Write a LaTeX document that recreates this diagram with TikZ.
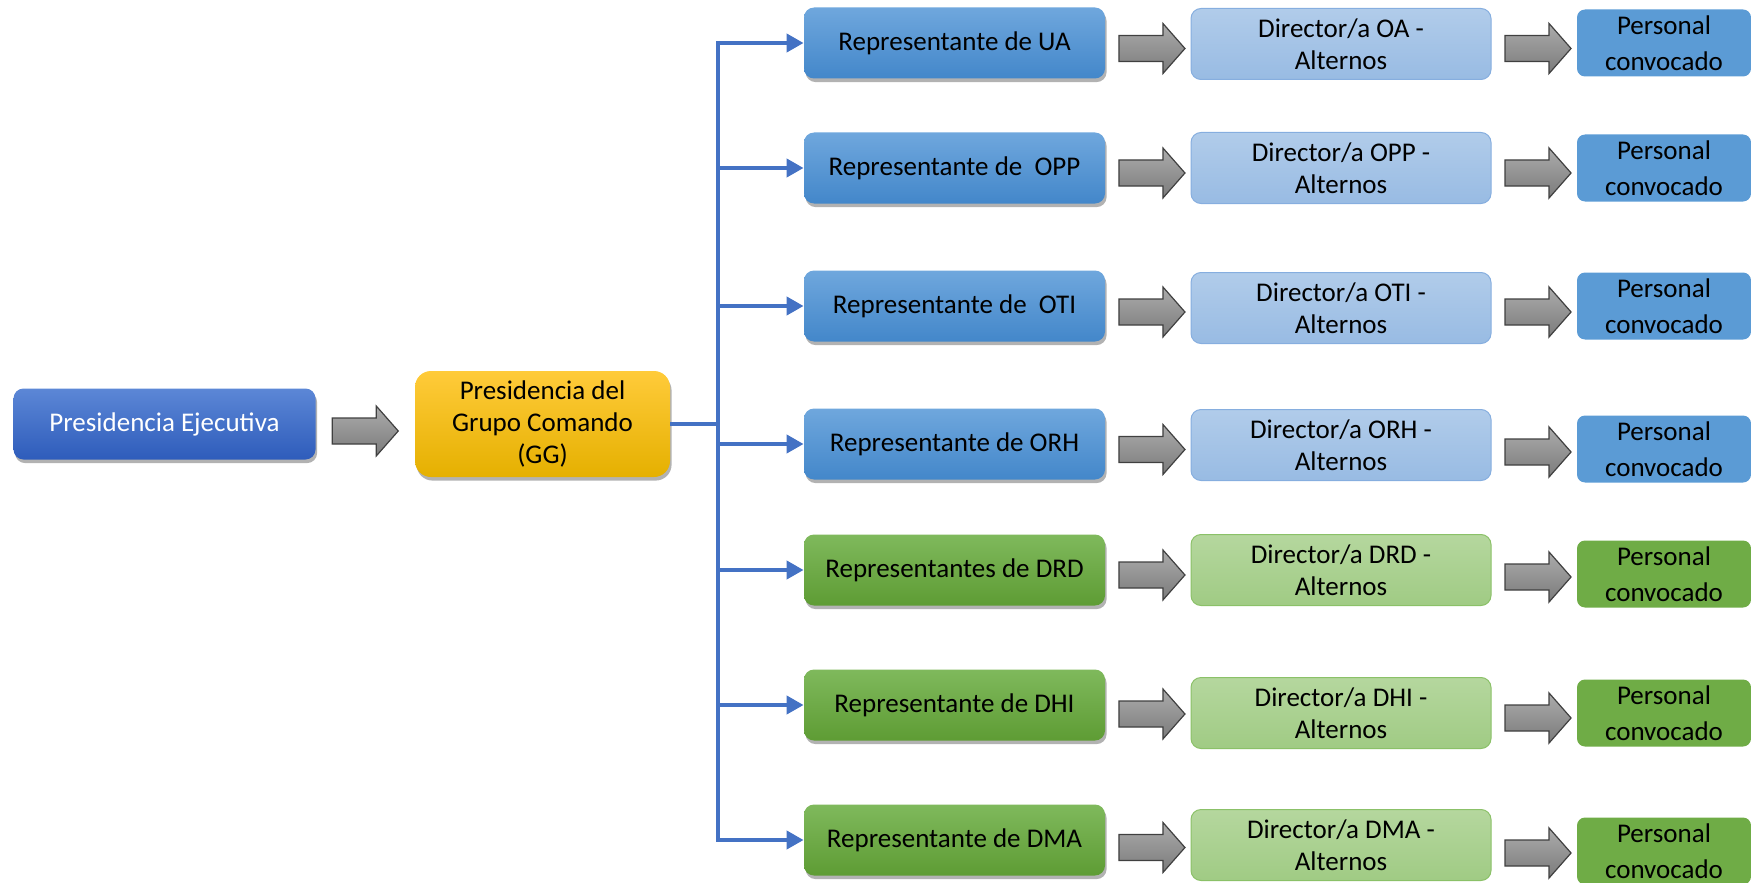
\documentclass[tikz,border=0pt]{standalone}
\usepackage{fontspec}
\setmainfont{Carlito}
\usetikzlibrary{arrows.meta,shadows,calc}
\definecolor{peTop}{HTML}{5C87D6}
\definecolor{peBot}{HTML}{2E5CBB}
\definecolor{ggTop}{HTML}{FFCB3A}
\definecolor{ggBot}{HTML}{E5B000}
\definecolor{rbTop}{HTML}{6FA7DD}
\definecolor{rbBot}{HTML}{4387CA}
\definecolor{dbTop}{HTML}{B1CCEA}
\definecolor{dbBot}{HTML}{98BBE3}
\definecolor{dbLine}{HTML}{86AEDF}
\definecolor{pbFill}{HTML}{5B9BD5}
\definecolor{rgTop}{HTML}{7FB95C}
\definecolor{rgBot}{HTML}{5E9C34}
\definecolor{dgTop}{HTML}{B5D79E}
\definecolor{dgBot}{HTML}{A0CB84}
\definecolor{dgLine}{HTML}{8BC168}
\definecolor{pgFill}{HTML}{6FAC46}
\definecolor{connBlue}{HTML}{4472C4}
\definecolor{arTop}{HTML}{ABABAB}
\definecolor{arBot}{HTML}{7B7B7B}
\definecolor{arLine}{HTML}{404040}
\begin{document}
\begin{tikzpicture}[x=0.5pt,y=-0.5pt,
  box/.style={rounded corners=5pt, inner sep=2pt, align=center,
    font=\fontsize{13.5}{16}\selectfont, text=black},
  softshadow/.style={drop shadow={shadow xshift=0.8pt, shadow yshift=-1.8pt, opacity=0.3, fill=black}},
  pebox/.style={box, minimum width=151pt, minimum height=35.5pt,
    top color=peTop, bottom color=peBot, text=white, softshadow},
  ggbox/.style={box, rounded corners=8pt, minimum width=127.5pt, minimum height=53pt,
    top color=ggTop, bottom color=ggBot, softshadow},
  repblue/.style={box, minimum width=150.5pt, minimum height=35.5pt,
    top color=rbTop, bottom color=rbBot, softshadow},
  repgreen/.style={box, minimum width=150.5pt, minimum height=35.5pt,
    top color=rgTop, bottom color=rgBot, softshadow},
  dirblue/.style={box, minimum width=150pt, minimum height=35.5pt,
    top color=dbTop, bottom color=dbBot, draw=dbLine, line width=0.5pt},
  dirgreen/.style={box, minimum width=150pt, minimum height=35.5pt,
    top color=dgTop, bottom color=dgBot, draw=dgLine, line width=0.5pt},
  persbox/.style={box, rounded corners=4pt, minimum width=87pt, minimum height=33.5pt,
    font=\fontsize{13.5}{18}\selectfont},
  persblue/.style={persbox, fill=pbFill},
  persgreen/.style={persbox, fill=pgFill},
  conn/.style={draw=connBlue, line width=2pt},
  connarrow/.style={conn, -{Triangle[length=8.5pt,width=9pt]}},
  garrowstyle/.style={draw=arLine, line width=0.6pt, top color=arTop, bottom color=arBot},
  garrow/.pic={\path[garrowstyle] (-33,-13) -- (11,-13) -- (11,-25) -- (33,0) -- (11,25) -- (11,13) -- (-33,13) -- cycle;}
]
\useasboundingbox (0,0) rectangle (1751,883);
\clip (0,0) rectangle (1751,883);

% left part
\node[pebox] (pe) at (164.5,424) {Presidencia Ejecutiva};
\node[ggbox] (gg) at (542.5,424) {Presidencia del\\Grupo Comando\\(GG)};

% representatives
\node[repblue]  (r1) at (954.5,43)  {Representante de UA};
\node[repblue]  (r2) at (954.5,168) {Representante de~ OPP};
\node[repblue]  (r3) at (954.5,306) {Representante de~ OTI};
\node[repblue]  (r4) at (954.5,444) {Representante de ORH};
\node[repgreen] (r5) at (954.5,570) {Representantes de DRD};
\node[repgreen] (r6) at (954.5,705) {Representante de DHI};
\node[repgreen] (r7) at (954.5,840) {Representante de DMA};

% directors
\node[dirblue]  (d1) at (1341,44)  {Director/a OA -\\Alternos};
\node[dirblue]  (d2) at (1341,168) {Director/a OPP -\\Alternos};
\node[dirblue]  (d3) at (1341,308) {Director/a OTI -\\Alternos};
\node[dirblue]  (d4) at (1341,445) {Director/a ORH -\\Alternos};
\node[dirgreen] (d5) at (1341,570) {Director/a DRD -\\Alternos};
\node[dirgreen] (d6) at (1341,713) {Director/a DHI -\\Alternos};
\node[dirgreen] (d7) at (1341,845) {Director/a DMA -\\Alternos};

% personal
\node[persblue]  (p1) at (1664,43)  {Personal\\convocado};
\node[persblue]  (p2) at (1664,168) {Personal\\convocado};
\node[persblue]  (p3) at (1664,306) {Personal\\convocado};
\node[persblue]  (p4) at (1664,449) {Personal\\convocado};
\node[persgreen] (p5) at (1664,574) {Personal\\convocado};
\node[persgreen] (p6) at (1664,713) {Personal\\convocado};
\node[persgreen] (p7) at (1664,851) {Personal\\convocado};

% tree connector
\coordinate (tk) at (718,0);
\draw[conn] (gg.east) -- (tk |- gg.east);
\draw[conn] ($(tk |- r1.west)+(0,-2)$) -- ($(tk |- r7.west)+(0,2)$);
\foreach \i in {1,...,7} {
  \draw[connarrow] (tk |- r\i.west) -- (r\i.west);
}

% gray block arrows
\pic at ($(pe.east)!.5!(gg.west)+(0,7)$) {garrow};
\foreach \i in {1,...,7} {
  \pic at ($(r\i.east)!.5!(d\i.west)+(4,5)$) {garrow};
  \pic at ($(d\i.east)!.5!(p\i.west)+(4,5)$) {garrow};
}
\end{tikzpicture}
\end{document}
